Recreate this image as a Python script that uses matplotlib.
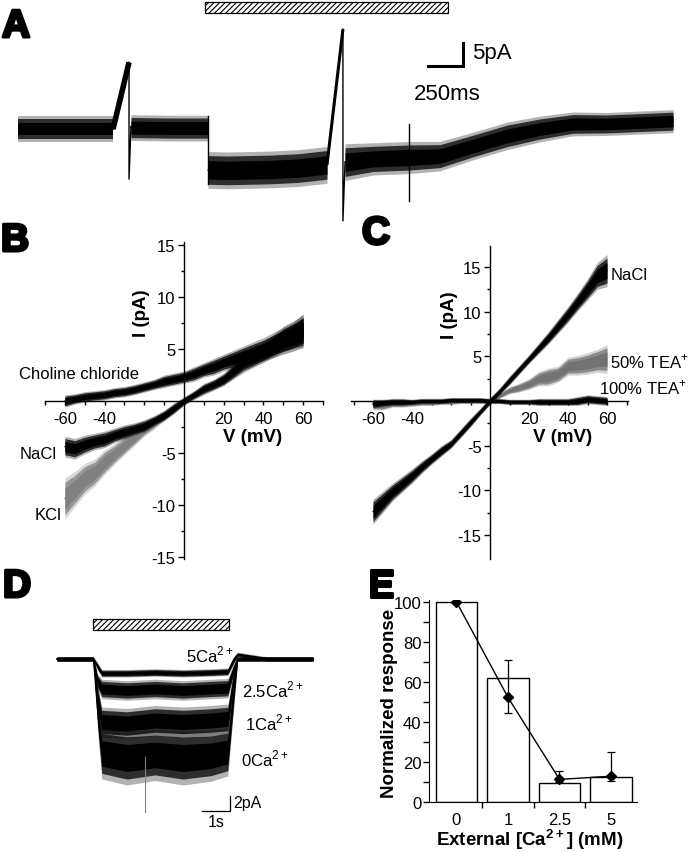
import matplotlib
matplotlib.use('Agg')
import matplotlib.pyplot as plt
from matplotlib.patches import Rectangle
import matplotlib.patheffects as pe
import numpy as np

plt.rcParams['font.family'] = ['Liberation Sans', 'DejaVu Sans']
plt.rcParams['mathtext.fontset'] = 'custom'
plt.rcParams['mathtext.rm'] = 'Liberation Sans'
plt.rcParams['hatch.linewidth'] = 0.8

# ---------------- DATA ----------------
# Panel A: whole-cell trace (time ms, current pA) -- segments: mean and noise half-width
a1_t = [0, 340, 679]
a1_i = [0.0, 0.0, 0.0]
a1_n = [2.8, 2.8, 2.8]
a_ramp1_t = [679, 793]
a_ramp1_i = [0.0, 14.5]
a_drop1_t = [793, 793, 807]
a_drop1_i = [14.5, -10.9, 0.6]
a2_t = [807, 1080, 1357]
a2_i = [0.3, 0.2, 0.2]
a2_n = [2.8, 2.8, 2.8]
a3_t = [1357, 1500, 1800, 2000, 2207]
a3_i = [-8.9, -9.0, -8.8, -8.5, -7.8]
a3_n = [4.0, 4.0, 4.0, 4.0, 4.0]
a_ramp2_t = [2207, 2321]
a_ramp2_i = [-7.8, 21.7]
a_drop2_t = [2321, 2321, 2336]
a_drop2_i = [21.7, -20.0, -7.2]
a4_t = [2336, 2536, 2793, 3014, 3250, 3493, 3729, 3964, 4207, 4679]
a4_i = [-7.2, -6.5, -6.2, -5.9, -3.7, -1.5, 0.0, 1.1, 1.1, 1.7]
a4_n = [4.0, 3.5, 3.5, 3.2, 3.0, 3.0, 2.8, 2.6, 2.5, 2.5]
a_spike_t = [2793, 2793]
a_spike_i = [1.1, -15.6]
a_stim = (1336, 3071)   # ms, application bar

# Panels B and C: I-V relations (mV, pA)
iv_v = [-60, -55, -50, -45, -40, -35, -30, -25, -20, -15, -10, -5, 0,
        5, 10, 15, 20, 25, 30, 35, 40, 45, 50, 55, 60]
b_choline = [0.0, 0.2, 0.4, 0.5, 0.6, 0.8, 0.9, 1.1, 1.35, 1.6, 1.9, 2.1, 2.3,
             2.6, 3.0, 3.3, 3.7, 4.0, 4.4, 4.7, 5.0, 5.4, 5.8, 6.2, 6.8]
b_choline_n = [0.6, 0.5, 0.5, 0.5, 0.5, 0.5, 0.5, 0.5, 0.5, 0.5, 0.6, 0.6, 0.6,
               0.7, 0.7, 0.8, 0.8, 0.9, 0.9, 1.0, 1.1, 1.2, 1.3, 1.4, 1.6]
b_nacl = [-4.4, -4.6, -4.2, -3.9, -3.7, -3.3, -3.0, -2.7, -2.4, -1.9, -1.4, -0.7, 0.0,
          0.6, 1.2, 1.6, 2.1, 2.9, 3.7, 4.2, 4.7, 5.3, 6.0, 6.4, 6.8]
b_nacl_n = [1.0, 1.0, 0.9, 0.8, 0.8, 0.7, 0.7, 0.6, 0.6, 0.5, 0.5, 0.5, 0.4,
            0.4, 0.5, 0.5, 0.6, 0.7, 0.8, 0.9, 1.0, 1.1, 1.2, 1.3, 1.5]
b_kcl = [-9.4, -8.5, -7.5, -6.9, -5.9, -5.1, -4.3, -3.5, -2.7, -2.1, -1.4, -0.7, 0.0,
         0.5, 1.0, 1.5, 2.0, 2.7, 3.4, 4.0, 4.7, 5.2, 5.7, 6.0, 6.3]
b_kcl_n = [2.0, 1.7, 1.5, 1.3, 1.2, 1.0, 0.9, 0.8, 0.7, 0.6, 0.5, 0.5, 0.4,
           0.4, 0.4, 0.5, 0.5, 0.6, 0.7, 0.8, 0.9, 1.0, 1.1, 1.1, 1.2]

c_nacl = [-12.4, -11.3, -10.2, -9.3, -8.4, -7.4, -6.5, -5.6, -4.8, -3.6, -2.4, -1.2, 0.0,
          1.1, 2.3, 3.5, 4.7, 5.9, 7.1, 8.4, 9.7, 11.1, 12.5, 14.0, 14.6]
c_nacl_n = [1.4, 1.2, 1.0, 0.9, 0.8, 0.7, 0.6, 0.6, 0.5, 0.5, 0.5, 0.4, 0.4,
            0.4, 0.5, 0.5, 0.5, 0.6, 0.7, 0.8, 0.9, 1.0, 1.2, 1.5, 1.8]
c_tea50 = [-0.4, -0.5, -0.3, -0.3, -0.3, -0.2, -0.2, -0.1, -0.1, 0.0, 0.0, 0.0, 0.0,
           0.6, 1.2, 1.5, 1.9, 2.5, 2.7, 3.0, 3.9, 4.0, 4.2, 4.5, 4.7]
c_tea50_n = [0.6, 0.5, 0.4, 0.4, 0.3, 0.3, 0.3, 0.3, 0.3, 0.3, 0.3, 0.3, 0.3,
             0.3, 0.4, 0.5, 0.6, 0.8, 1.0, 0.9, 1.0, 1.1, 1.2, 1.3, 1.6]
c_tea100 = [-0.3, -0.2, -0.1, -0.1, -0.1, 0.0, 0.0, 0.0, 0.1, 0.1, 0.1, 0.1, 0.0,
            0.0, -0.1, -0.1, -0.1, -0.1, -0.1, -0.1, -0.1, 0.0, 0.2, 0.1, 0.0]
c_tea100_n = [0.5, 0.4, 0.4, 0.4, 0.3, 0.3, 0.3, 0.3, 0.3, 0.3, 0.3, 0.3, 0.3,
              0.3, 0.3, 0.3, 0.3, 0.4, 0.4, 0.4, 0.4, 0.5, 0.5, 0.5, 0.5]

# Panel D: responses at different external Ca2+ (time s, current pA)
d_t = [0, 1.30, 1.45, 1.60, 2.5, 3.5, 4.5, 5.5, 6.10, 6.30, 6.45, 7.5, 9.14]
d5_i = [0, 0, -1.0, -1.9, -1.9, -1.8, -1.9, -1.8, -1.7, -0.2, 0.6, 0.0, 0.0]
d5_n = [0.3, 0.3, 0.5, 0.5, 0.5, 0.5, 0.5, 0.5, 0.5, 0.5, 0.3, 0.3, 0.3]
d25_i = [0, 0, -3.0, -4.0, -4.2, -4.0, -4.2, -4.0, -3.9, -1.5, 0.0, 0.0, 0.0]
d25_n = [0.3, 0.3, 1.0, 1.3, 1.3, 1.3, 1.3, 1.3, 1.3, 0.8, 0.3, 0.3, 0.3]
d1_i = [0, 0, -5.0, -8.4, -8.6, -8.2, -8.4, -8.2, -8.0, -3.0, 0.0, 0.0, 0.0]
d1_n = [0.3, 0.3, 1.5, 2.0, 2.0, 2.0, 2.0, 2.0, 2.0, 1.2, 0.3, 0.3, 0.3]
d0_i = [0, 0, -7.0, -12.6, -13.2, -12.8, -13.2, -12.9, -12.4, -5.0, 0.0, 0.0, 0.0]
d0_n = [0.3, 0.3, 2.5, 3.4, 3.6, 3.4, 3.6, 3.4, 3.2, 2.0, 0.3, 0.3, 0.3]
d_spike_t = [3.14, 3.14]
d_spike_i = [-13.0, -20.4]
d_stim = (1.29, 6.14)

# Panel E: normalized response vs external Ca2+
e_cats = ['0', '1', '2.5', '5']
e_bars = [100, 61.8, 9.5, 12.5]
e_pts = [100, 52.3, 11.3, 12.9]
e_err_lo = [100, 44.5, 9.8, 10.3]
e_err_hi = [100, 71.1, 15.6, 24.9]

# ---------------- FIGURE ----------------
W, H = 692, 853
fig = plt.figure(figsize=(W / 100, H / 100), dpi=100)


def ax_px(x0, y0, x1, y1):
    return fig.add_axes([x0 / W, 1 - y1 / H, (x1 - x0) / W, (y1 - y0) / H])


def txt(x, y, s, **kw):
    fig.text(x / W, 1 - y / H, s, **kw)


def band(ax, t, m, n, color='black', z=2):
    t = np.asarray(t, float); m = np.asarray(m, float); n = np.asarray(n, float)
    ax.fill_between(t, m - n, m + n, color=color, alpha=0.3, lw=0, zorder=z)
    ax.fill_between(t, m - n * 0.78, m + n * 0.78, color=color, alpha=0.75, lw=0, zorder=z)
    ax.fill_between(t, m - n * 0.5, m + n * 0.5, color=color, lw=0, zorder=z)
    ax.plot(t, m, color=color, lw=0.8, zorder=z)


SUP2 = r'$^{\mathregular{2+}}$'
SUP1 = r'$^{\mathregular{+}}$'

# ---- Panel A ----
MS_PX = 250 / 35.0
PA_PX = 5 / 23.0
axA = ax_px(0, 0, 692, 230)
axA.set_xlim((0 - 18) * MS_PX, (692 - 18) * MS_PX)
axA.set_ylim((130 - 230) * PA_PX, 130 * PA_PX)
axA.axis('off')
for t, m, n in [(a1_t, a1_i, a1_n), (a2_t, a2_i, a2_n), (a3_t, a3_i, a3_n), (a4_t, a4_i, a4_n)]:
    band(axA, t, m, n)
axA.plot(a_ramp1_t, a_ramp1_i, color='black', lw=4, solid_capstyle='butt')
axA.plot(a_drop1_t, a_drop1_i, color='black', lw=1)
axA.plot([a2_t[-1], a2_t[-1]], [2.8, -12.0], color='black', lw=1)
axA.plot(a_ramp2_t, a_ramp2_i, color='black', lw=2.2, solid_capstyle='butt')
axA.plot(a_drop2_t, a_drop2_i, color='black', lw=1)
axA.plot(a_spike_t, a_spike_i, color='black', lw=1)
y_lo, y_hi = (130 - 14) * PA_PX, (130 - 3) * PA_PX
axA.add_patch(Rectangle((a_stim[0], y_lo), a_stim[1] - a_stim[0], y_hi - y_lo,
                        facecolor='white', edgecolor='black', hatch='//////', lw=0.9))
# scale bar A
sx = (463 - 18) * MS_PX
sy = (130 - 67) * PA_PX
axA.plot([sx - 250, sx, sx], [sy, sy, sy + 5], color='black', lw=2.2, solid_joinstyle='miter')
txt(472, 53, '5pA', fontsize=16, ha='left', va='center')
txt(447, 95, '250ms', fontsize=16, ha='center', va='center')

# ---- IV axes helper ----


def iv_axes(box, x0px, y0px, pxmv, pxpa):
    x_l, y_t, x_r, y_b = box
    ax = ax_px(x_l, y_t, x_r, y_b)
    ax.set_xlim((x_l - x0px) / pxmv, (x_r - x0px) / pxmv)
    ax.set_ylim((y0px - y_b) / pxpa, (y0px - y_t) / pxpa)
    ax.patch.set_alpha(0)
    for s in ['top', 'right']:
        ax.spines[s].set_visible(False)
    ax.spines['left'].set_position(('data', 0))
    ax.spines['bottom'].set_position(('data', 0))
    ax.spines['left'].set_linewidth(1.0)
    ax.spines['bottom'].set_linewidth(1.0)
    ax.set_xticks([-60, -40, 20, 40, 60])
    ax.set_xticklabels(['-60', '-40', '20', '40', '60'])
    ax.set_xticks(np.arange(-70, 71, 10), minor=True)
    ax.set_yticks([-15, -10, -5, 5, 10, 15])
    ax.set_yticklabels(['-15', '-10', '-5', '5', '10', '15'])
    ax.set_yticks(np.arange(-15, 15.1, 2.5), minor=True)
    ax.tick_params(axis='x', which='both', direction='out', length=3, width=1, labelsize=12, pad=4)
    ax.tick_params(axis='y', which='major', direction='out', length=4, width=1, labelsize=12, pad=2)
    ax.tick_params(axis='y', which='minor', direction='out', length=2.5, width=1)
    return ax


# ---- Panel B ----
axB = iv_axes((45, 243, 323, 560), 184, 402, 2.0, 10.38)
band(axB, iv_v, b_kcl, b_kcl_n, color='0.5')
band(axB, iv_v, b_nacl, b_nacl_n, color='black')
band(axB, iv_v, b_choline, b_choline_n, color='black')
txt(141, 313, 'I (pA)', fontsize=13.5, fontweight='bold', rotation=90, ha='center', va='center')
txt(253, 438, 'V (mV)', fontsize=13.5, fontweight='bold', ha='center', va='center')
txt(19, 375, 'Choline chloride', fontsize=12, ha='left', va='center')
txt(20, 455, 'NaCl', fontsize=12, ha='left', va='center')
txt(35, 515, 'KCl', fontsize=12, ha='left', va='center')

# ---- Panel C ----
axC = iv_axes((351, 247, 628, 560), 490, 402, 1.95, 8.93)
band(axC, iv_v, c_tea50, c_tea50_n, color='0.45')
band(axC, iv_v, c_nacl, c_nacl_n, color='black')
band(axC, iv_v, c_tea100, c_tea100_n, color='black')
txt(450, 315, 'I (pA)', fontsize=13.5, fontweight='bold', rotation=90, ha='center', va='center')
txt(563, 438, 'V (mV)', fontsize=13.5, fontweight='bold', ha='center', va='center')
txt(611, 275, 'NaCl', fontsize=12, ha='left', va='center')
txt(610, 362, '50% TEA' + SUP1, fontsize=12, ha='left', va='center')
txt(599, 388, '100% TEA' + SUP1, fontsize=12, ha='left', va='center')

# ---- Panel D ----
S_PX = 28.0
DPA_PX = 7.5
axD = ax_px(0, 600, 350, 853)
axD.set_xlim((0 - 57) / S_PX, (350 - 57) / S_PX)
axD.set_ylim((660 - 853) / DPA_PX, (660 - 600) / DPA_PX)
axD.axis('off')
band(axD, d_t, d0_i, d0_n)
axD.plot(d_spike_t, d_spike_i, color='0.5', lw=0.8)
band(axD, d_t, d1_i, d1_n)
band(axD, d_t, d25_i, d25_n)
band(axD, d_t, d5_i, d5_n)
yl, yh = (660 - 631) / DPA_PX, (660 - 620) / DPA_PX
axD.add_patch(Rectangle((d_stim[0], yl), d_stim[1] - d_stim[0], yh - yl,
                        facecolor='white', edgecolor='black', hatch='//////', lw=0.9))
bx = (230 - 57) / S_PX
by = (660 - 812) / DPA_PX
axD.plot([bx - 1, bx, bx], [by, by, by + 2], color='black', lw=0.9)
txt(233, 804, '2pA', fontsize=11.5, ha='left', va='center')
txt(216, 823, '1s', fontsize=11.5, ha='center', va='center')
txt(186, 655, '5Ca' + SUP2, fontsize=12, ha='left', va='center')
txt(242, 690, '2.5Ca' + SUP2, fontsize=12, ha='left', va='center')
txt(245, 723, '1Ca' + SUP2, fontsize=12, ha='left', va='center')
txt(241, 759, '0Ca' + SUP2, fontsize=12, ha='left', va='center')

# ---- Panel E ----
axE = ax_px(429, 601, 637, 803)
xe = np.arange(len(e_cats))
axE.bar(xe, e_bars, width=0.8, facecolor='white', edgecolor='black', lw=1.0, zorder=1)
pts = np.array(e_pts)
yerr = [pts - np.array(e_err_lo), np.array(e_err_hi) - pts]
axE.errorbar(xe, pts, yerr=yerr, fmt='-D', color='black', ms=5.5, lw=1.0,
             elinewidth=0.9, capsize=3, capthick=0.9, zorder=3)
axE.set_xlim(-0.534, 3.505)
axE.set_ylim(0, 101)
for s in ['top', 'right']:
    axE.spines[s].set_visible(False)
axE.set_xticks([0.5, 1.5, 2.5])
axE.set_xticklabels([])
axE.set_xticks(xe, minor=True)
axE.set_xticklabels(e_cats, minor=True)
axE.tick_params(axis='x', which='major', direction='out', length=4, width=1)
axE.tick_params(axis='x', which='minor', length=0, labelsize=12, pad=7)
axE.set_yticks(np.arange(0, 101, 20))
axE.set_yticks(np.arange(10, 100, 20), minor=True)
axE.tick_params(axis='y', which='major', direction='out', length=4, width=1, labelsize=12, pad=1.5)
axE.tick_params(axis='y', which='minor', direction='out', length=4, width=1)
txt(390, 703, 'Normalized response', fontsize=13.5, fontweight='bold', rotation=90,
    ha='center', va='center')
txt(530, 840, 'External [Ca' + SUP2 + '] (mM)', fontsize=13.5, fontweight='bold',
    ha='center', va='center')

# ---- panel letters ----
stroke = [pe.withStroke(linewidth=2.2, foreground='black')]
for L, x, y in [('A', 2, 38), ('B', 1, 252), ('C', 362, 245), ('D', 3, 598), ('E', 368, 598)]:
    txt(x, y, L, fontsize=28, fontweight='bold', ha='left', va='baseline', path_effects=stroke)

fig.savefig('out.png', dpi=100)
